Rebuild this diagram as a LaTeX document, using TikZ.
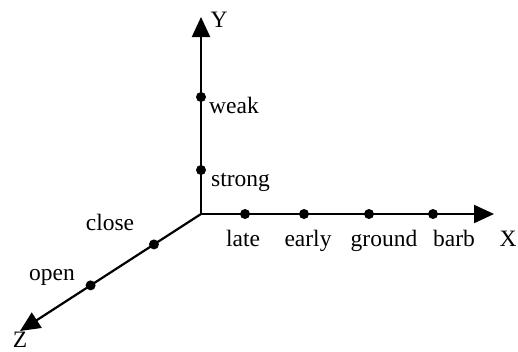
\documentclass[tikz,border=0pt]{standalone}
\usepackage{fontspec}
\setmainfont{Liberation Serif}
\usetikzlibrary{arrows.meta,calc}
\begin{document}
\begin{tikzpicture}[x=1pt,y=-1pt,
  axis/.style={line width=2.2pt,-{Triangle[length=20pt,width=18pt]}},
  pt/.style={circle,fill=black,inner sep=0pt,minimum size=10pt},
  lab/.style={inner sep=0pt,font=\fontsize{23.5}{27}\selectfont}]
\useasboundingbox (0,0) rectangle (518,351);
\coordinate (O) at (201,214);
\coordinate (Xend) at (494,214);
\coordinate (Yend) at (201,17);
\coordinate (Zend) at (20,331);
\draw[axis] (O) -- (Xend);
\draw[axis] (O) -- (Yend);
\draw[axis] (O) -- (Zend);
% dots
\node[pt] (weak) at (201,97) {};
\node[pt] (strong) at (201,170) {};
\node[pt] (late) at (245,214) {};
\node[pt] (early) at (304,214) {};
\node[pt] (ground) at (369,214) {};
\node[pt] (barb) at (433,214) {};
\node[pt] (close) at ($(O)!0.26!(Zend)$) {};
\node[pt] (open) at ($(O)!0.61!(Zend)$) {};
% labels
\node[lab,anchor=base] (Ylab) at (219,27) {Y};
\node[lab,anchor=base west] (weaklab) at (209,113) {weak};
\node[lab,anchor=base west] (stronglab) at (211,186) {strong};
\node[lab,anchor=base] (latelab) at (243,246) {late};
\node[lab,anchor=base] (earlylab) at (308,246) {early};
\node[lab,anchor=base] (groundlab) at (384,246) {ground};
\node[lab,anchor=base] (barblab) at (454,246) {barb};
\node[lab,anchor=base] (Xlab) at (508,246) {X};
\node[lab,anchor=base] (closelab) at (110,230) {close};
\node[lab,anchor=base] (openlab) at (52,280) {open};
\node[lab,anchor=base] (Zlab) at (20,347) {Z};
\end{tikzpicture}
\end{document}
